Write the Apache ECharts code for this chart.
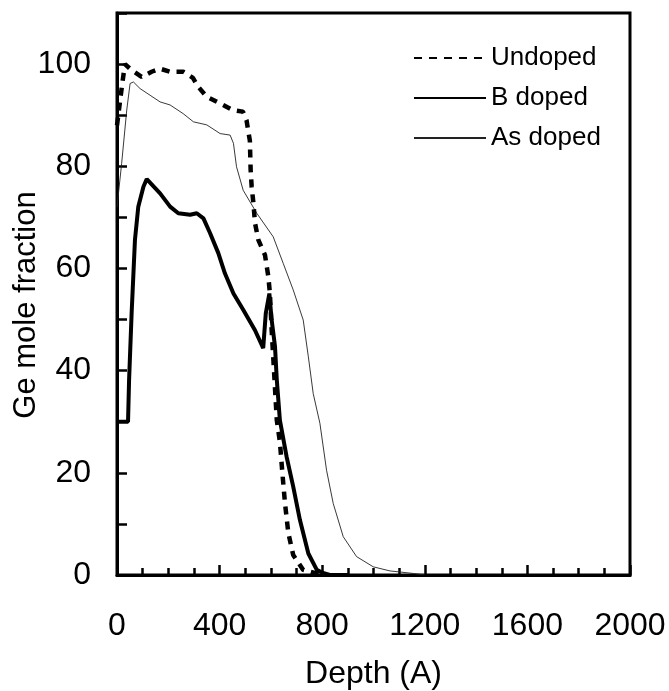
<!DOCTYPE html>
<html><head><meta charset="utf-8">
<script src="https://cdn.jsdelivr.net/npm/echarts@6/dist/echarts.min.js"></script>
<style>html,body{margin:0;padding:0;background:#fff}#c{width:669px;height:691px}</style>
</head><body><div id="c"></div>
<script>
var undopedDepth=[0,10,20,31,57,96,135,168,207,258,296,316,350,402,452,491,505,518,521,525,532,538,551,577,590,596,603,609,623,635,646,655,668,687,726,779,800];
var undopedFrac=[88,92,96,100,98.8,97.5,98.5,99.1,98.5,98.5,97.3,95.6,93.6,92.3,91,90.7,89,85,79.3,76,72.7,68.9,65.6,62.6,58.4,55.2,47.9,42.7,30.3,26.1,19.2,14,8.2,3.9,1.0,0.3,0];
var bDepth=[0,43,47,57,70,83,103,116,168,207,239,285,311,337,363,395,421,454,492,538,570,580,594,603,616,623,635,661,687,713,746,779,803,830,900];
var bFrac=[30,30,38,51.2,65.6,72.1,76,77.5,74.7,72.1,70.8,70.5,70.8,69.8,66.9,63,59,55.1,51.9,47.9,44.4,51.2,55.1,49.9,44.7,38.2,30.3,23.2,17.3,10.8,4.2,1.0,0.4,0,0];
var asDepth=[0,18,38,51,64,90,129,168,207,258,298,350,402,441,454,466,492,545,609,648,687,726,746,765,791,817,843,882,934,999,1064,1155,1200];
var asFrac=[72,80.5,91,96.2,96.5,95.2,93.9,92.6,92,90.3,88.7,88.1,86.4,86.1,84.5,79.9,75.3,70.8,66.2,61,55.8,49.9,42.7,35.5,29.7,20.5,14,7.5,3.6,1.6,0.8,0.3,0];
var seriesNames=['Undoped','B doped','As doped'];
var xLabelValues=[0,400,800,1200,1600,2000];
var yLabelValues=[0,20,40,60,80,100];

function pairs(a,b){return a.map(function(v,i){return [v,b[i]];});}
var font='"Liberation Sans", Arial, sans-serif';
var chart=echarts.init(document.getElementById('c'),null,{renderer:'canvas'});
chart.setOption({
  animation:false,
  backgroundColor:'#fff',
  grid:{left:117,right:39,top:13,bottom:116,show:true,borderColor:'#000',borderWidth:3,backgroundColor:'transparent',
    containLabel:false,outerBoundsMode:'none'},
  legend:{
    orient:'vertical',left:408,top:40,itemWidth:72,itemHeight:14,itemGap:14,itemTextGap:3,
    itemStyle:{opacity:0},
    textStyle:{fontFamily:font,fontSize:26,color:'#000',lineHeight:26},
    data:seriesNames
  },
  xAxis:{
    type:'value',min:0,max:2000,interval:400,
    name:'Depth (A)',nameLocation:'middle',nameGap:83,nameMoveOverlap:false,
    nameTextStyle:{fontFamily:font,fontSize:32,color:'#000'},
    axisLine:{lineStyle:{color:'#000',width:3}},
    axisTick:{inside:true,length:10,lineStyle:{color:'#000',width:2.5}},
    minorTick:{show:true,splitNumber:4,length:7,lineStyle:{color:'#000',width:2.5}},
    splitLine:{show:false},
    axisLabel:{fontFamily:font,fontSize:32,color:'#000',margin:35,
      formatter:function(v){return xLabelValues.indexOf(v)>=0?String(v):'';}}
  },
  yAxis:{
    type:'value',min:0,max:110,interval:10,
    name:'Ge mole fraction',nameLocation:'middle',nameGap:75,nameMoveOverlap:false,
    nameTextStyle:{fontFamily:font,fontSize:31,color:'#000',padding:[0,22,0,0]},
    axisLine:{lineStyle:{color:'#000',width:3}},
    axisTick:{inside:true,length:10,lineStyle:{color:'#000',width:2.5}},
    splitLine:{show:false},
    axisLabel:{fontFamily:font,fontSize:32,color:'#000',margin:26,
      formatter:function(v){return yLabelValues.indexOf(v)>=0?String(v):'';}}
  },
  series:[
    {name:seriesNames[0],type:'line',data:pairs(undopedDepth,undopedFrac),symbol:'none',
     lineStyle:{color:'#000',width:4.5,type:[8,7]},itemStyle:{color:'#000'},z:3},
    {name:seriesNames[1],type:'line',data:pairs(bDepth,bFrac),symbol:'none',
     lineStyle:{color:'#000',width:4},itemStyle:{color:'#000'},z:4},
    {name:seriesNames[2],type:'line',data:pairs(asDepth,asFrac),symbol:'none',
     lineStyle:{color:'#222',width:0.9},itemStyle:{color:'#222'},z:2}
  ]
});
</script></body></html>
